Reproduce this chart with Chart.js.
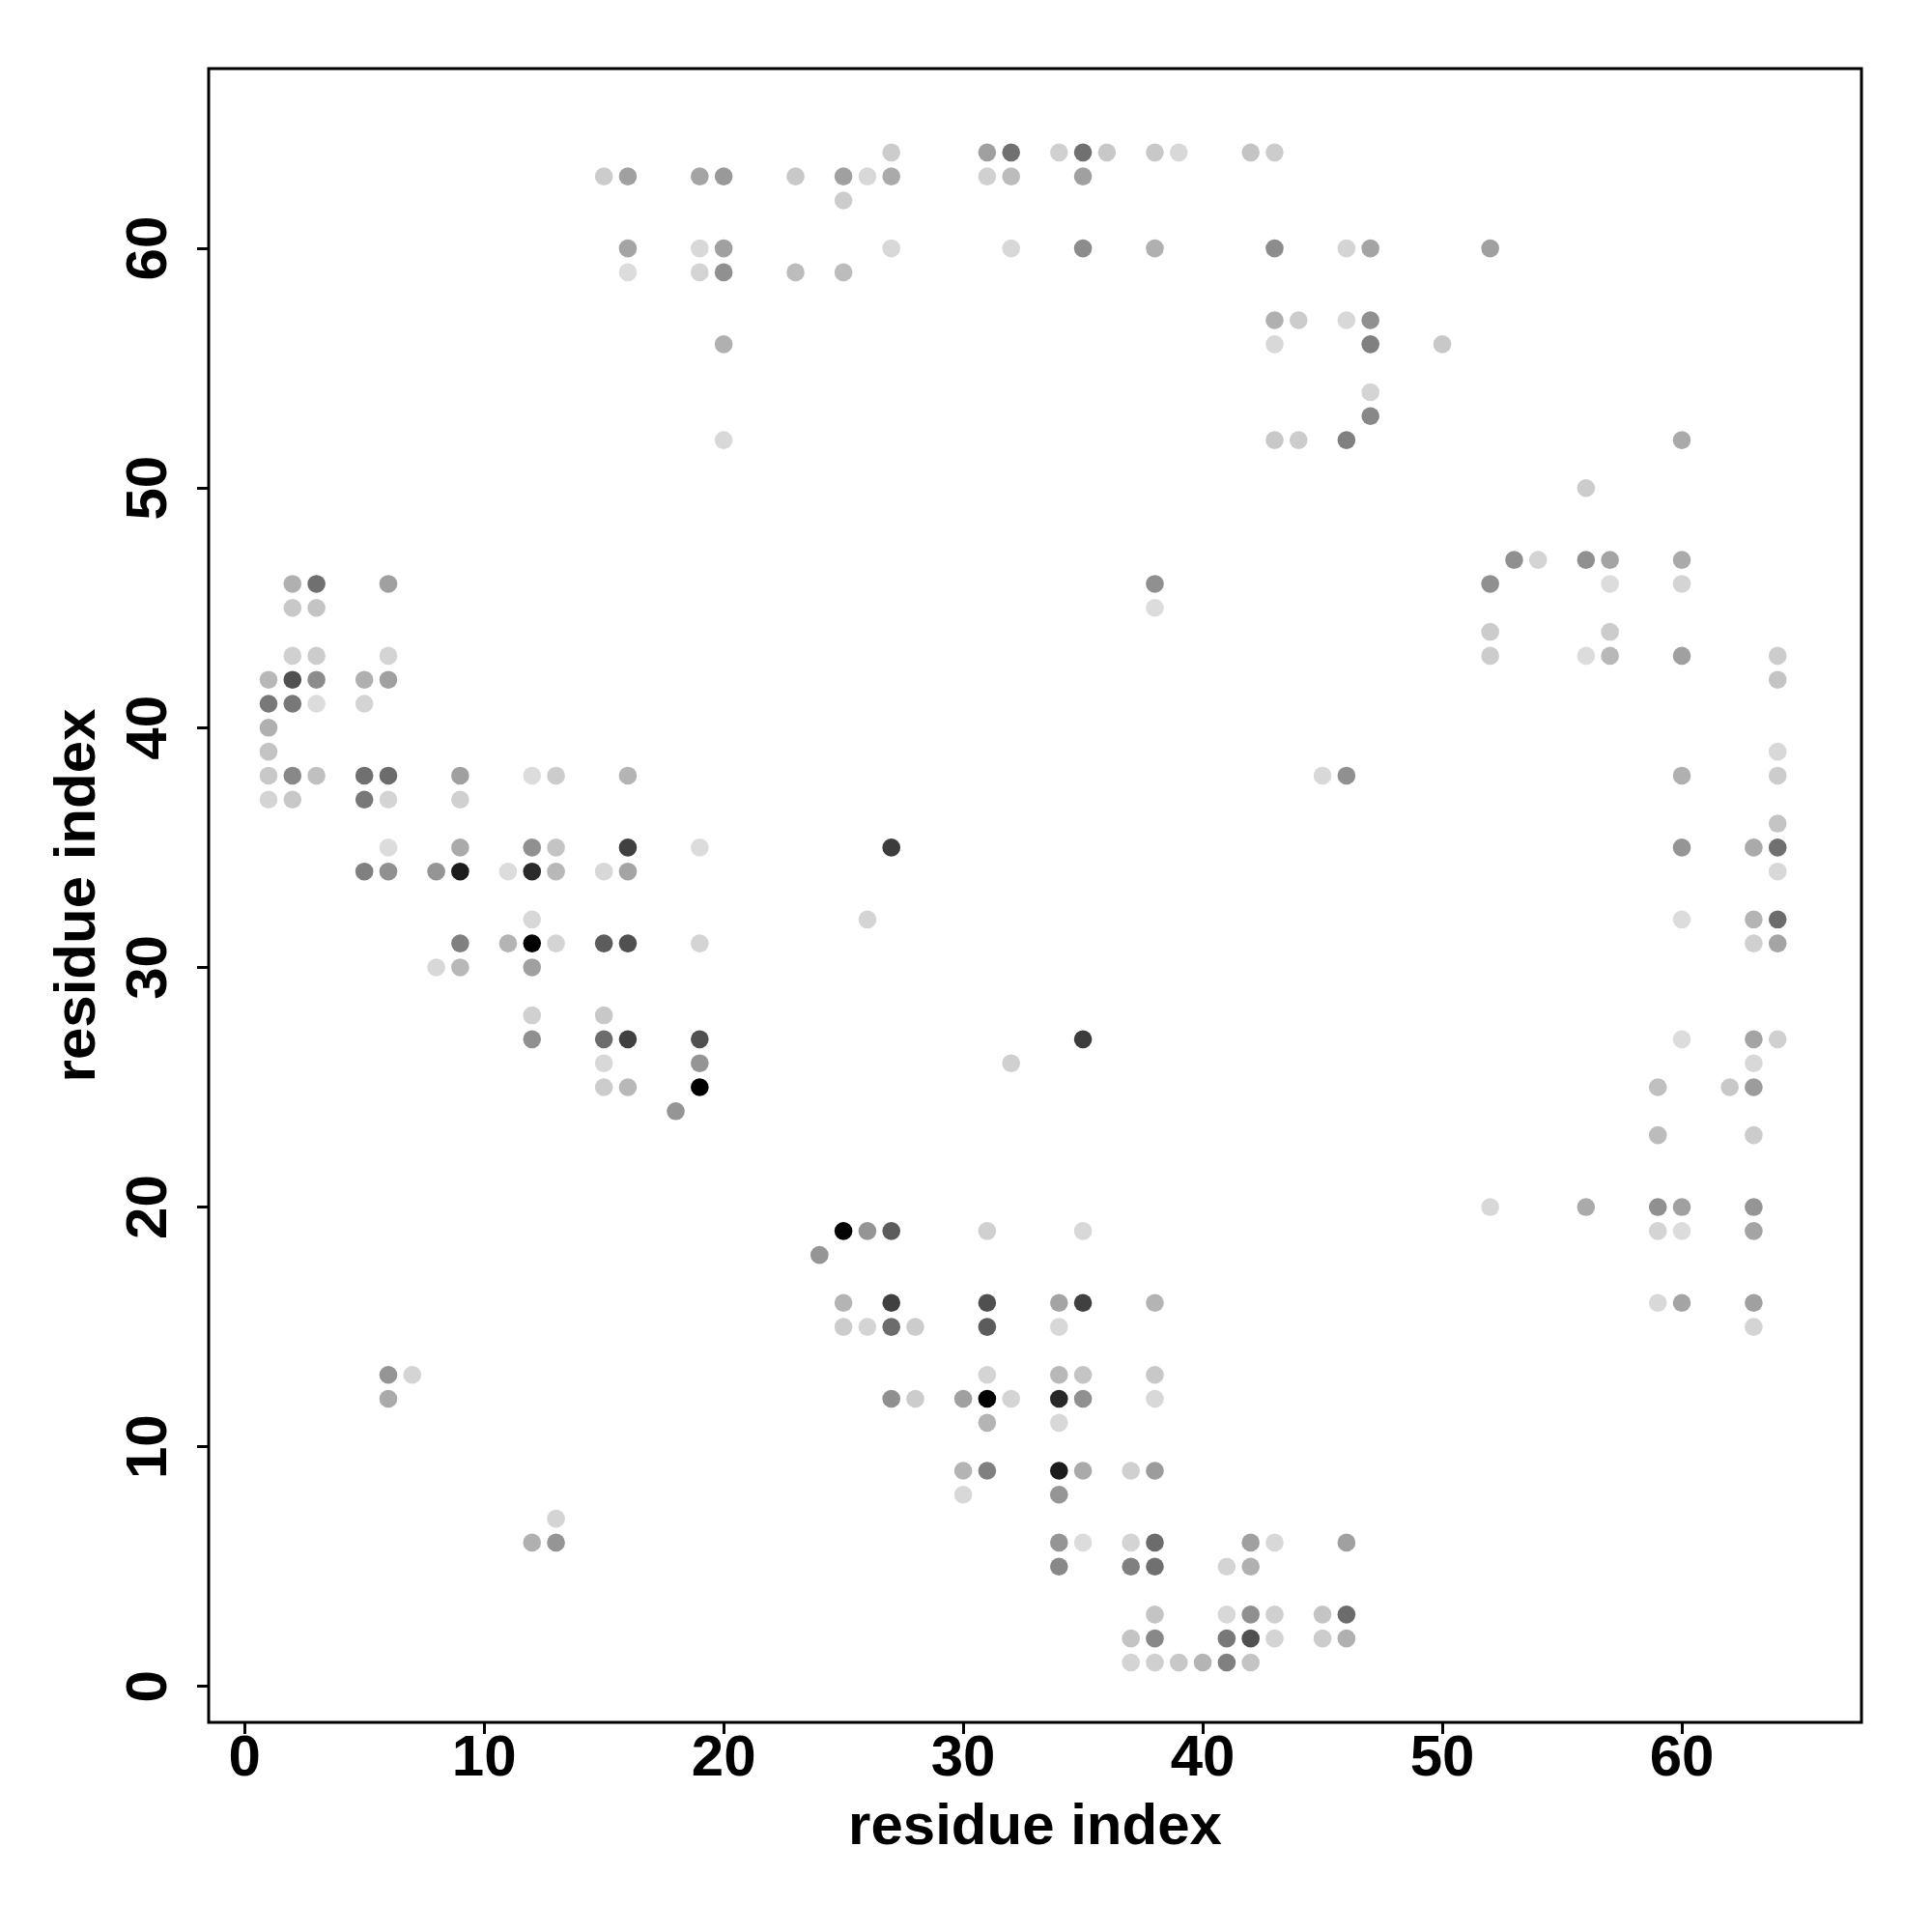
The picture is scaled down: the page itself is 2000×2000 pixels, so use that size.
<!DOCTYPE html>
<html>
<head>
<meta charset="utf-8">
<title>residue contact map</title>
<script src="https://cdn.jsdelivr.net/npm/chart.js@4.4.1/dist/chart.umd.min.js"></script>
<style>
  html, body { margin: 0; padding: 0; background: #fff; }
  #wrap { width: 2000px; height: 2000px; }
</style>
</head>
<body>
<div id="wrap"><canvas id="contactChart" width="2000" height="2000"></canvas></div>
<script>
// ---------------- Contact pairs (residue i, residue j, grey level 0-255) ----------------
const resI = [
    27, 15, 16, 19, 20, 23, 25, 26, 27, 25, 16, 19, 20, 27, 16, 19, 20, 23, 25, 20, 20,
    31, 32, 34, 35, 36, 38, 39, 42, 43, 31, 32, 35, 32, 35, 38, 43, 46, 47, 52,
    43, 44, 46, 47, 43, 47, 50, 47, 47, 43, 44, 46,
    2, 3, 6, 2, 3, 2, 3, 6, 1, 2, 3, 5, 6, 1, 2, 3, 5, 1, 1,
    1, 2, 3, 5, 6, 9, 12, 13, 16, 1, 2, 5, 6, 9,
    6, 9, 12, 13, 16, 19, 5, 6, 8, 9, 11, 12, 13, 15, 16, 12,
    9, 11, 12, 13, 15, 16, 19, 8, 9, 12, 12, 15, 12, 15, 16, 19, 15, 19, 15, 16, 19, 18,
    25, 26, 27, 31, 35, 24, 25, 27, 31, 34, 35, 38, 25, 26, 27, 28, 31, 34,
    31, 34, 35, 38, 27, 28, 30, 31, 32, 34, 35, 38, 31, 34,
    30, 31, 34, 35, 37, 38, 30, 34, 34, 35, 37, 38, 42, 43, 46, 34, 37, 38, 41, 42,
    38, 41, 42, 43, 45, 46, 37, 38, 41, 42, 43, 45, 46, 37, 38, 39, 40, 41, 42,
    60, 56, 53, 54, 56, 57, 60, 52, 57, 60, 52, 57, 52, 56, 57, 60, 64, 64, 64, 60, 64,
    64, 60, 63, 64, 64, 60, 63, 64, 63, 64,
    60, 63, 64, 63, 59, 62, 63, 59, 63, 52, 56, 59, 60, 63, 59, 60, 63, 59, 60, 63, 63,
    6, 7, 6, 13, 12, 13,
    38, 38, 45, 46, 27, 26, 35, 32
];
const resJ = [
    64, 63, 63, 63, 63, 63, 63, 63, 63, 62, 60, 60, 60, 60, 59, 59, 59, 59, 59, 56, 52,
    64, 64, 64, 64, 64, 64, 64, 64, 64, 63, 63, 63, 60, 60, 60, 60, 60, 60, 60,
    57, 57, 57, 57, 56, 56, 56, 54, 53, 52, 52, 52,
    46, 46, 46, 45, 45, 43, 43, 43, 42, 42, 42, 42, 42, 41, 41, 41, 41, 40, 39,
    38, 38, 38, 38, 38, 38, 38, 38, 38, 37, 37, 37, 37, 37,
    35, 35, 35, 35, 35, 35, 34, 34, 34, 34, 34, 34, 34, 34, 34, 32,
    31, 31, 31, 31, 31, 31, 31, 30, 30, 30, 28, 28, 27, 27, 27, 27, 26, 26, 25, 25, 25, 24,
    19, 19, 19, 19, 19, 18, 16, 16, 16, 16, 16, 16, 15, 15, 15, 15, 15, 15,
    13, 13, 13, 13, 12, 12, 12, 12, 12, 12, 12, 12, 11, 11,
    9, 9, 9, 9, 9, 9, 8, 8, 6, 6, 6, 6, 6, 6, 6, 5, 5, 5, 5, 5,
    3, 3, 3, 3, 3, 3, 2, 2, 2, 2, 2, 2, 2, 1, 1, 1, 1, 1, 1,
    52, 50, 47, 47, 47, 47, 47, 46, 46, 46, 44, 44, 43, 43, 43, 43, 43, 42, 39, 38, 38,
    36, 35, 35, 35, 34, 32, 32, 32, 31, 31,
    27, 27, 27, 26, 25, 25, 25, 23, 23, 20, 20, 20, 20, 20, 19, 19, 19, 16, 16, 16, 15,
    13, 13, 12, 7, 6, 6,
    46, 45, 38, 38, 35, 32, 27, 26
];
const greyLevel = [
    204, 204, 160, 164, 153, 200, 160, 216, 170, 204, 164, 216, 160, 216, 220, 212, 144, 188, 188, 176, 216,
    160, 112, 208, 112, 200, 200, 216, 196, 204, 208, 188, 160, 216, 140, 176, 140, 212, 164, 160,
    176, 204, 216, 144, 216, 128, 200, 212, 136, 200, 204, 128,
    176, 112, 160, 200, 196, 208, 204, 212, 184, 80, 140, 176, 160, 120, 120, 220, 212, 176, 196,
    200, 136, 192, 112, 108, 160, 220, 204, 180, 212, 200, 120, 212, 208,
    220, 170, 144, 196, 64, 220, 128, 144, 149, 28, 220, 42, 184, 216, 164, 216,
    128, 180, 0, 212, 92, 80, 212, 216, 184, 160, 208, 200, 144, 108, 64, 80, 216, 149, 204, 184, 0, 149,
    5, 149, 92, 208, 216, 149, 180, 64, 80, 164, 64, 180, 204, 212, 108, 204, 92, 216,
    212, 184, 196, 200, 144, 204, 160, 0, 212, 40, 144, 216, 180, 216,
    180, 128, 28, 170, 208, 156, 216, 149, 149, 220, 212, 108, 160, 216, 160, 136, 128, 112, 212, 176,
    196, 216, 144, 208, 196, 108, 196, 136, 120, 80, 212, 204, 176, 212, 208, 200, 180, 128, 196,
    170, 204, 144, 212, 144, 164, 170, 144, 220, 212, 204, 204, 204, 220, 184, 160, 204, 196, 216, 176, 204,
    196, 149, 170, 112, 216, 220, 180, 108, 208, 164,
    220, 164, 208, 216, 192, 200, 156, 188, 204, 216, 170, 144, 160, 149, 212, 220, 164, 216, 164, 160, 212,
    149, 212, 170, 212, 176, 149,
    144, 220, 216, 144, 60, 212, 60, 208
];
const tickValues = [0, 10, 20, 30, 40, 50, 60];
const axisTitle = 'residue index';

const points = resI.map((x, k) => ({ x: x, y: resJ[k] }));
const colours = greyLevel.map(g => `rgb(${g}, ${g}, ${g})`);

const FONT = 'Liberation Sans';

// box round the plot and y tick labels written along the axis
const framePlugin = {
    id: 'frame',
    afterDraw(chart) {
        const ctx = chart.ctx;
        const a = chart.chartArea;
        ctx.save();
        ctx.strokeStyle = '#000';
        ctx.lineWidth = 3;
        ctx.strokeRect(a.left, a.top, a.right - a.left, a.bottom - a.top);

        const yScale = chart.scales.y;
        ctx.fillStyle = '#000';
        ctx.font = `bold 60px "${FONT}"`;
        ctx.textAlign = 'center';
        ctx.textBaseline = 'alphabetic';
        yScale.ticks.forEach(t => {
            const py = yScale.getPixelForValue(t.value);
            ctx.save();
            ctx.translate(172, py);
            ctx.rotate(-Math.PI / 2);
            ctx.fillText(String(t.value), 0, 0);
            ctx.restore();
        });
        ctx.restore();
    }
};

const ctx = document.getElementById('contactChart').getContext('2d');
new Chart(ctx, {
    type: 'scatter',
    data: {
        datasets: [{
            label: 'contacts',
            data: points,
            pointBackgroundColor: colours,
            pointBorderWidth: 0,
            pointRadius: 9.3,
            pointHoverRadius: 9.3
        }]
    },
    options: {
        responsive: false,
        animation: false,
        devicePixelRatio: 1,
        layout: { padding: { top: 71, right: 73, left: 0, bottom: 0 } },
        plugins: {
            legend: { display: false },
            tooltip: { enabled: false }
        },
        scales: {
            x: {
                type: 'linear',
                min: -1.5,
                max: 67.5,
                afterFit: s => { s.height = 217; },
                afterBuildTicks: s => { s.ticks = tickValues.map(v => ({ value: v })); },
                border: { display: false },
                grid: { drawOnChartArea: false, drawTicks: true, tickLength: 12, lineWidth: 3, color: '#000' },
                ticks: {
                    includeBounds: false,
                    padding: -4,
                    color: '#000',
                    font: { family: FONT, size: 60, weight: 'bold', lineHeight: 1 }
                },
                title: {
                    display: true,
                    text: axisTitle,
                    color: '#000',
                    padding: { top: 0, bottom: 72 },
                    font: { family: FONT, size: 60, weight: 'bold', lineHeight: 1.2 }
                }
            },
            y: {
                type: 'linear',
                min: -1.5,
                max: 67.5,
                afterFit: s => { s.width = 216; },
                afterBuildTicks: s => { s.ticks = tickValues.map(v => ({ value: v })); },
                border: { display: false },
                grid: { drawOnChartArea: false, drawTicks: true, tickLength: 12, lineWidth: 3, color: '#000' },
                ticks: { display: false, includeBounds: false },
                title: {
                    display: true,
                    text: axisTitle,
                    color: '#000',
                    padding: { top: 45, bottom: 0 },
                    font: { family: FONT, size: 60, weight: 'bold', lineHeight: 1.2 }
                }
            }
        }
    },
    plugins: [framePlugin]
});
</script>
</body>
</html>
